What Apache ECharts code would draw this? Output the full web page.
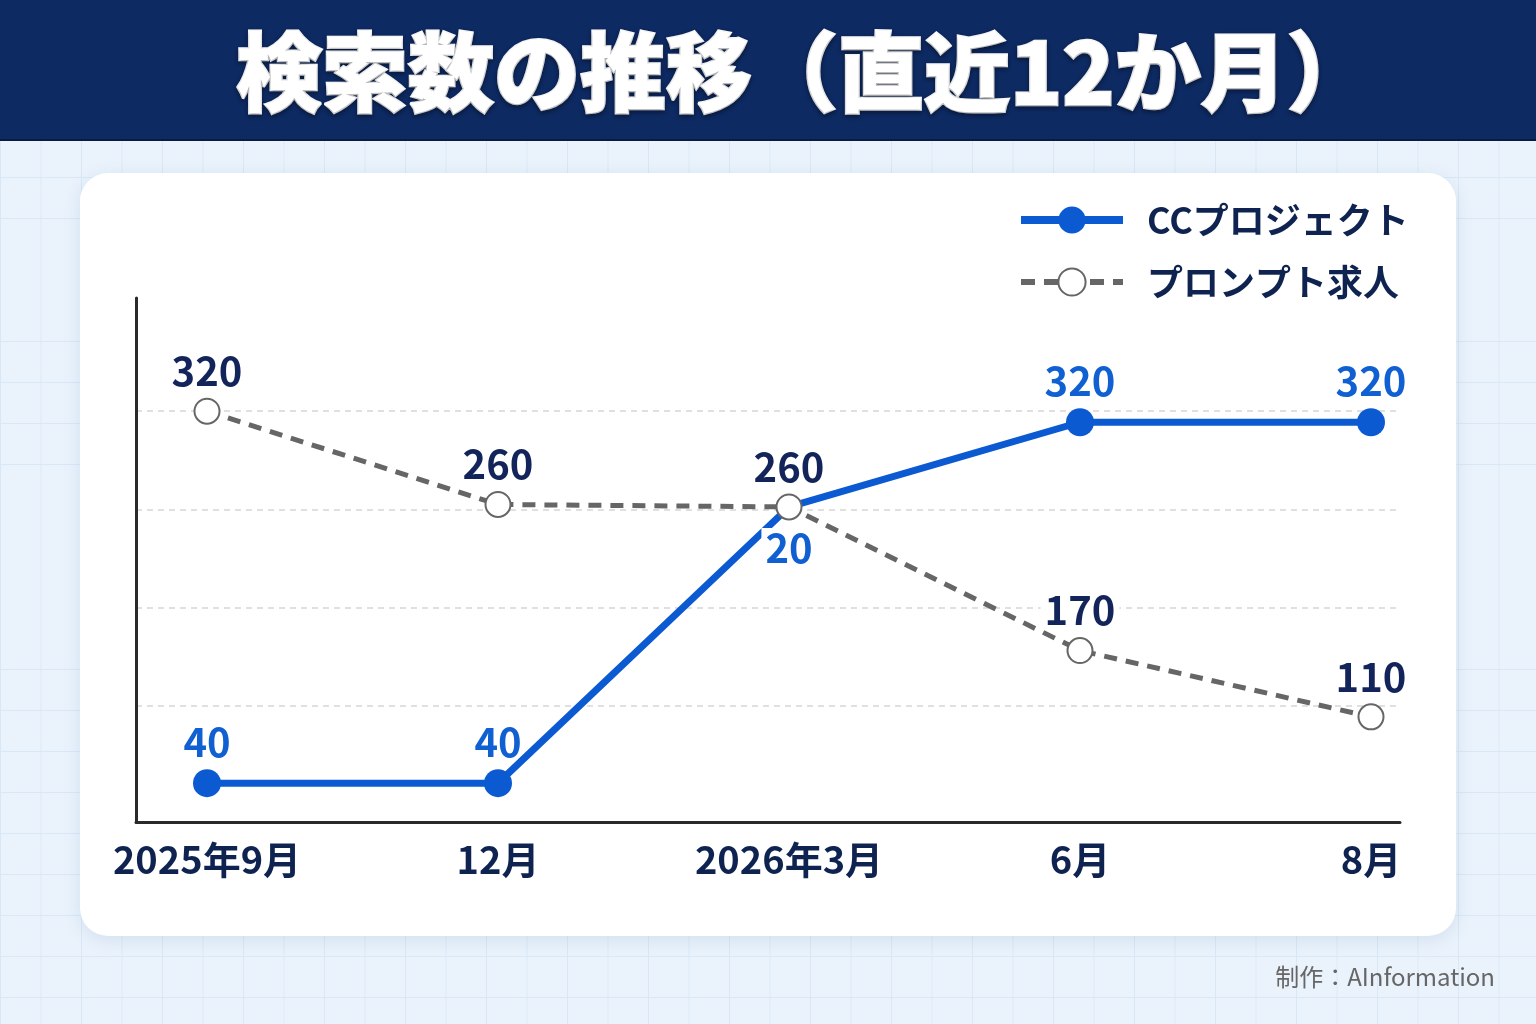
<!DOCTYPE html>
<html>
<head>
<meta charset="UTF-8">
<title>検索数の推移（直近12か月）</title>
<style>
  html, body { margin: 0; padding: 0; }
  body {
    width: 1536px;
    height: 1024px;
    overflow: hidden;
    background-color: #eaf3fc;
    background-image:
      linear-gradient(to right, #d9e8f7 1px, transparent 1px),
      linear-gradient(to bottom, #d9e8f7 1px, transparent 1px);
    background-size: 40.5px 41px;
    background-position: 0 13px;
  }
  #chart { width: 1536px; height: 1024px; }
</style>
<script src="https://cdn.jsdelivr.net/npm/echarts@6/dist/echarts.min.js"></script>
</head>
<body>
<div id="chart"></div>
<script>
  var categories = ['2025年9月', '12月', '2026年3月', '6月', '8月'];
  var seriesNames = ['CCプロジェクト', 'プロンプト求人'];

  // height of each point as drawn in the picture (its own scale, gridlines every 80)
  var ccValues = [17, 17, 242, 311, 311];
  var promptValues = [320, 244, 242, 125, 71];

  // numbers printed next to each point
  var ccLabels = ['40', '40', '20', '320', '320'];
  var promptLabels = ['320', '260', '260', '170', '110'];

  var yMax = 400;
  var yStep = 80;

  var FONT = "'Noto Sans CJK JP', 'Noto Sans', sans-serif";
  var NAVY = '#13245a';
  var BLUE = '#0b5ad2';
  var GREY = '#666666';

  var chart = echarts.init(document.getElementById('chart'));

  var labelBase = {
    show: true,
    position: 'top',
    distance: 7,
    fontFamily: FONT,
    fontSize: 40,
    fontWeight: 'bold',
    padding: [0, 4]
  };

  var option = {
    backgroundColor: 'transparent',
    animation: false,
    title: {
      text: '検索数の推移（直近12か月）',
      left: 236,
      top: 29,
      padding: 0,
      textStyle: {
        color: '#ffffff',
        fontFamily: FONT,
        fontSize: 86,
        fontWeight: 900,
        textBorderColor: '#ffffff',
        textBorderWidth: 2.5,
        textShadowColor: 'rgba(0,0,0,0.35)',
        textShadowBlur: 4,
        textShadowOffsetY: 2
      }
    },
    graphic: [
      { type: 'rect', z: -10, shape: { x: 0, y: 0, width: 1536, height: 140 }, style: { fill: '#0e2a62' } },
      { type: 'rect', z: -10, shape: { x: 0, y: 139, width: 1536, height: 2 }, style: { fill: '#081b42' } },
      {
        type: 'rect', z: -10,
        shape: { x: 80, y: 173, width: 1376, height: 763, r: 28 },
        style: { fill: '#ffffff', shadowBlur: 18, shadowColor: 'rgba(40,90,150,0.12)', shadowOffsetY: 4 }
      },
      {
        type: 'text', z: -5, x: 1495, y: 977,
        style: {
          text: '制作：AInformation', fill: '#666666', font: '24px ' + FONT,
          align: 'right', verticalAlign: 'middle'
        }
      }
    ],
    legend: {
      data: [
        { name: seriesNames[0], lineStyle: { width: 8 } },
        { name: seriesNames[1], lineStyle: { width: 6, type: [14, 9] }, itemStyle: { borderWidth: 3 } }
      ],
      orient: 'vertical',
      left: 1017,
      top: 202,
      padding: 0,
      itemWidth: 102,
      itemHeight: 34,
      itemGap: 26,
      textStyle: {
        fontFamily: FONT,
        fontSize: 36,
        fontWeight: 'bold',
        color: '#0f2350',
        padding: [0, 0, 0, 19]
      }
    },
    grid: [
      // axis frame
      { left: 136, right: 136, top: 298, bottom: 202 },
      // dashed gridlines
      { left: 136, right: 136, top: 313, bottom: 220 },
      // data
      { left: 207, right: 165, top: 313, bottom: 220 }
    ],
    xAxis: [
      {
        gridIndex: 0, type: 'value', min: 0, max: 1,
        axisLine: { show: true, lineStyle: { color: '#2a2a2a', width: 3 } },
        axisTick: { show: false }, axisLabel: { show: false }, splitLine: { show: false }
      },
      {
        gridIndex: 1, type: 'value', min: 0, max: 1, show: false
      },
      {
        gridIndex: 2, type: 'category', data: categories, boundaryGap: false,
        axisLine: { show: false }, axisTick: { show: false }, splitLine: { show: false },
        axisLabel: {
          margin: 37, fontFamily: FONT, fontSize: 38, fontWeight: 'bold', color: '#0f2350',
          interval: 0
        }
      }
    ],
    yAxis: [
      {
        gridIndex: 0, type: 'value', min: 0, max: 1,
        axisLine: { show: true, lineStyle: { color: '#2a2a2a', width: 3 } },
        axisTick: { show: false }, axisLabel: { show: false }, splitLine: { show: false }
      },
      {
        gridIndex: 1, type: 'value', min: 0, max: yMax, interval: yStep,
        axisLine: { show: false }, axisTick: { show: false }, axisLabel: { show: false },
        splitLine: {
          show: true, showMinLine: false, showMaxLine: false,
          lineStyle: { color: '#d6d6d6', width: 1.5, type: [6, 5] }
        }
      },
      {
        gridIndex: 2, type: 'value', min: 0, max: yMax, show: false, splitLine: { show: false }
      }
    ],
    series: [
      {
        name: seriesNames[0],
        type: 'line',
        xAxisIndex: 2,
        yAxisIndex: 2,
        data: ccValues.map(function (v, i) {
          // at 2026年3月 the dot hides under the other series' ring, label goes below
          return i === 2
            ? { value: v, symbolSize: 18, label: { position: 'bottom', distance: 12, backgroundColor: '#ffffff' } }
            : v;
        }),
        symbol: 'circle',
        symbolSize: 28,
        lineStyle: { color: BLUE, width: 7 },
        itemStyle: { color: BLUE },
        label: Object.assign({}, labelBase, {
          color: '#1160d2',
          formatter: function (p) { return ccLabels[p.dataIndex]; }
        }),
        emphasis: { disabled: true }
      },
      {
        name: seriesNames[1],
        type: 'line',
        xAxisIndex: 2,
        yAxisIndex: 2,
        data: promptValues,
        symbol: 'emptyCircle',
        symbolSize: 25,
        lineStyle: { color: GREY, width: 5, type: [13, 9] },
        itemStyle: { color: GREY, borderWidth: 3.5 },
        label: Object.assign({}, labelBase, {
          color: NAVY,
          backgroundColor: '#ffffff',
          formatter: function (p) { return promptLabels[p.dataIndex]; }
        }),
        emphasis: { disabled: true }
      }
    ]
  };

  chart.setOption(option);
</script>
</body>
</html>
